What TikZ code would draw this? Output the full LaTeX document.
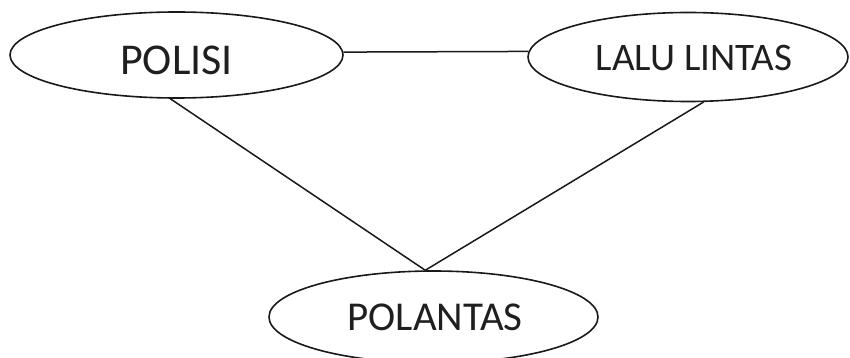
\documentclass[tikz,border=0pt]{standalone}
\usepackage{fontspec}
\setmainfont{Carlito}
\usetikzlibrary{shapes.geometric}
\begin{document}
\begin{tikzpicture}[x=1pt,y=-1pt,
  ent/.style={draw=black!90, line width=1.6pt, ellipse, inner sep=0pt},
  lbl/.style={inner sep=0pt, text=black!88},
  link/.style={draw=black!90, line width=1.5pt}]
\useasboundingbox (0,0) rectangle (850,358);
\node[ent, minimum width=333pt, minimum height=86pt] (polisi) at (176.5,55) {};
\node[ent, minimum width=320pt, minimum height=89pt] (lalu) at (688,57) {};
\node[ent, minimum width=329pt, minimum height=92pt] (polantas) at (433.5,317) {};
\node[lbl, font=\fontsize{44}{44}\selectfont] (tpolisi) at (176.5,60) {POLISI};
\node[lbl, font=\fontsize{39}{39}\selectfont] (tlalu) at (694,57.5) {LALU LINTAS};
\node[lbl, font=\fontsize{41}{41}\selectfont] (tpolantas) at (435,317.5) {POLANTAS};
\draw[link] (polisi.1) -- (lalu.178);
\draw[link] (polisi.-98.6) -- (polantas.100.5);
\draw[link] (lalu.-71.6) -- (polantas.100.5);
\end{tikzpicture}
\end{document}
